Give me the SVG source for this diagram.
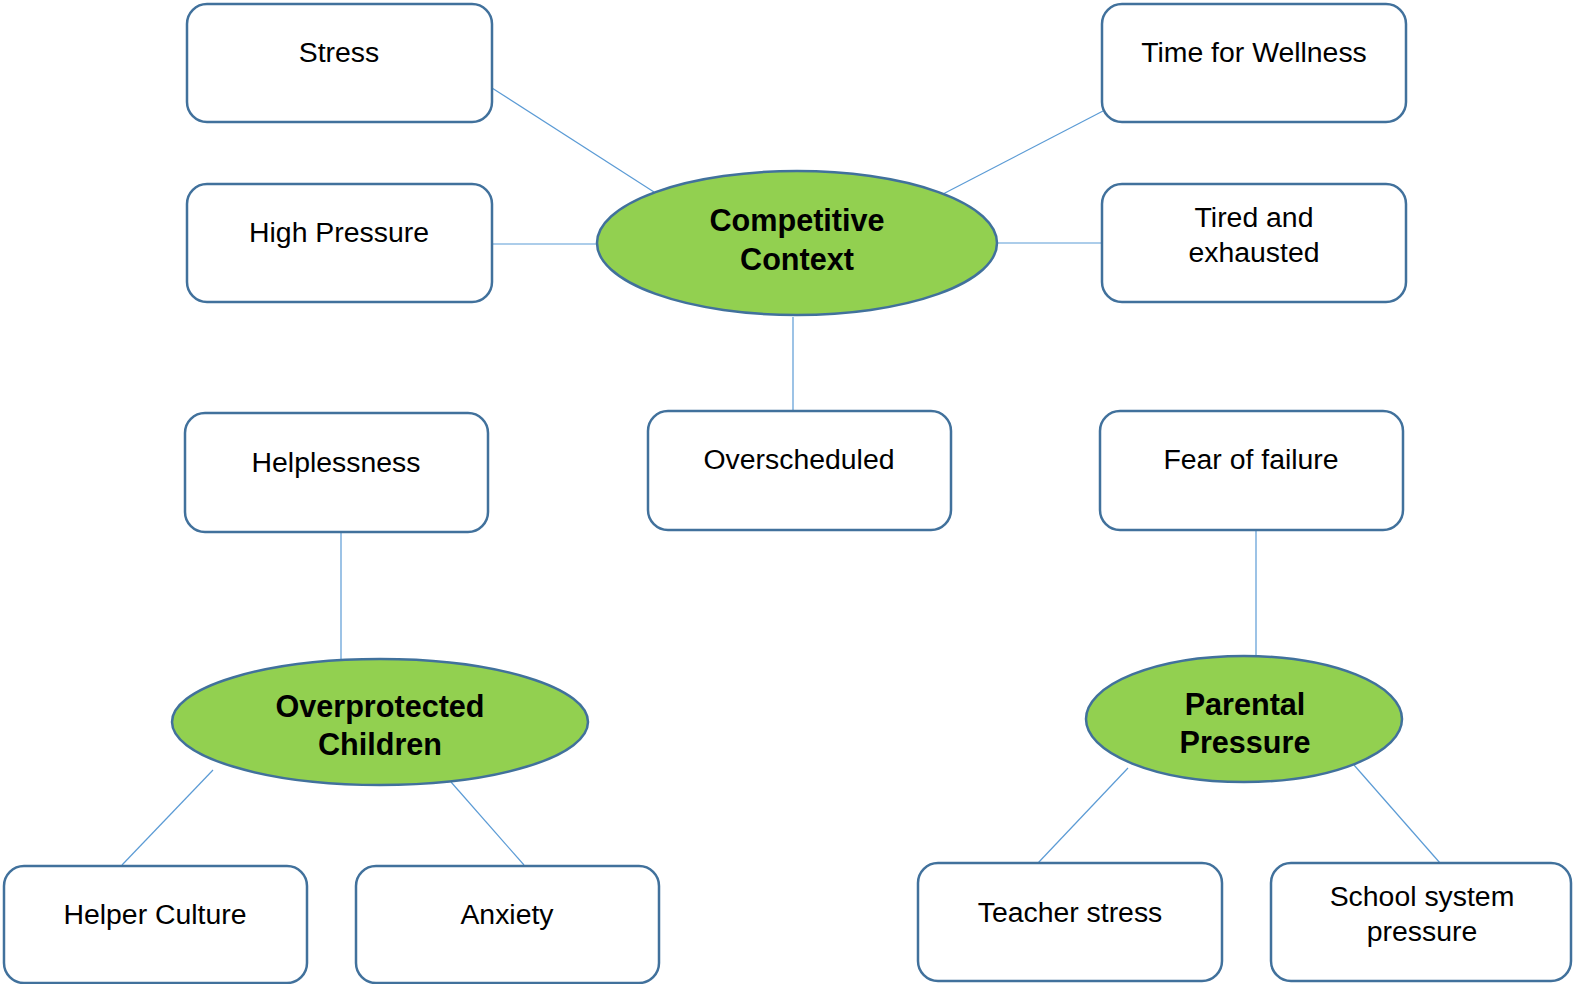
<svg xmlns="http://www.w3.org/2000/svg" width="1573" height="984" viewBox="0 0 1573 984">
<style>
.box{fill:#fff;stroke:#41719C;stroke-width:2.5}
.ell{fill:#92D050;stroke:#41719C;stroke-width:2.5}
.t{font-family:"Liberation Sans",Arial,sans-serif;font-size:28.4px;fill:#000;text-anchor:middle}
.b{font-family:"Liberation Sans",Arial,sans-serif;font-size:30.6px;font-weight:bold;fill:#000;text-anchor:middle}
.c line{stroke:#5B9BD5;stroke-width:1.2}
</style>
<rect width="1573" height="984" fill="#fff"/>
<g class="c" id="connectors">
<line x1="492" y1="88" x2="654" y2="192"/>
<line x1="1103" y1="111" x2="943" y2="194"/>
<line x1="492" y1="244" x2="598" y2="244"/>
<line x1="997" y1="243" x2="1102" y2="243"/>
<line x1="793" y1="317" x2="793" y2="411"/>
<line x1="341" y1="533" x2="341" y2="659"/>
<line x1="1256" y1="530" x2="1256" y2="657"/>
<line x1="213" y1="770" x2="122" y2="865"/>
<line x1="451" y1="782" x2="524" y2="865"/>
<line x1="1128" y1="768" x2="1038" y2="863"/>
<line x1="1354" y1="765" x2="1440" y2="863"/>
</g>
<g id="stress"><rect class="box" x="187" y="4" width="305" height="118" rx="20"/><text class="t" x="339" y="62">Stress</text></g>
<g id="high-pressure"><rect class="box" x="187" y="184" width="305" height="118" rx="20"/><text class="t" x="339" y="242">High Pressure</text></g>
<g id="time-wellness"><rect class="box" x="1102" y="4" width="304" height="118" rx="20"/><text class="t" x="1254" y="62">Time for Wellness</text></g>
<g id="tired"><rect class="box" x="1102" y="184" width="304" height="118" rx="20"/><text class="t" x="1254" y="227">Tired and</text><text class="t" x="1254" y="262">exhausted</text></g>
<g id="competitive"><ellipse class="ell" cx="797" cy="243" rx="200" ry="72"/><text class="b" x="797" y="231">Competitive</text><text class="b" x="797" y="270">Context</text></g>
<g id="helplessness"><rect class="box" x="185" y="413" width="303" height="119" rx="20"/><text class="t" x="336" y="472">Helplessness</text></g>
<g id="overscheduled"><rect class="box" x="648" y="411" width="303" height="119" rx="20"/><text class="t" x="799" y="469">Overscheduled</text></g>
<g id="fear"><rect class="box" x="1100" y="411" width="303" height="119" rx="20"/><text class="t" x="1251" y="469">Fear of failure</text></g>
<g id="overprotected"><ellipse class="ell" cx="380" cy="722" rx="208" ry="63"/><text class="b" x="380" y="717">Overprotected</text><text class="b" x="380" y="755">Children</text></g>
<g id="parental"><ellipse class="ell" cx="1244" cy="719" rx="158" ry="63"/><text class="b" x="1245" y="715">Parental</text><text class="b" x="1245" y="753">Pressure</text></g>
<g id="helper"><rect class="box" x="4" y="866" width="303" height="117" rx="20"/><text class="t" x="155" y="924">Helper Culture</text></g>
<g id="anxiety"><rect class="box" x="356" y="866" width="303" height="117" rx="20"/><text class="t" x="507" y="924">Anxiety</text></g>
<g id="teacher"><rect class="box" x="918" y="863" width="304" height="118" rx="20"/><text class="t" x="1070" y="922">Teacher stress</text></g>
<g id="school"><rect class="box" x="1271" y="863" width="300" height="118" rx="20"/><text class="t" x="1422" y="906">School system</text><text class="t" x="1422" y="941">pressure</text></g>
</svg>
